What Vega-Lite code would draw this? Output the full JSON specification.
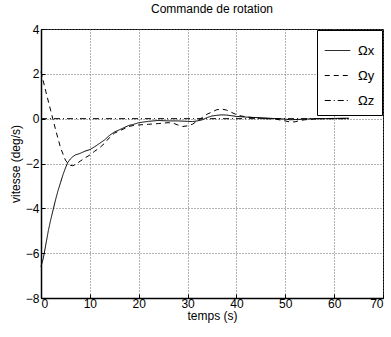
{
  "$schema": "https://vega.github.io/schema/vega-lite/v6.json",
  "width": 342,
  "height": 269,
  "autosize": {"type": "none"},
  "padding": {"left": 41, "top": 29, "right": 8, "bottom": 39},
  "background": "white",
  "title": {"text": "Commande de rotation", "fontSize": 12, "fontWeight": "normal", "font": "Liberation Sans", "offset": 7, "color": "black"},
  "config": {
    "font": "Liberation Sans",
    "view": {"stroke": "black", "strokeWidth": 1},
    "axis": {
      "domainColor": "black", "domainWidth": 1.5,
      "tickColor": "black", "tickSize": -4, "labelPadding": 6,
      "labelColor": "black", "labelFontSize": 12, "labelFont": "Liberation Sans",
      "titleColor": "black", "titleFontSize": 12, "titleFontWeight": "normal", "titleFont": "Liberation Sans"
    }
  },
  "data": {
    "values": [
      {"t": 0, "v": -6.6, "s": "Ωx"}, {"t": 0.5, "v": -6.2, "s": "Ωx"}, {"t": 1, "v": -5.6, "s": "Ωx"}, {"t": 1.5, "v": -5.0, "s": "Ωx"}, {"t": 2, "v": -4.5, "s": "Ωx"}, {"t": 2.5, "v": -4.05, "s": "Ωx"}, {"t": 3, "v": -3.6, "s": "Ωx"}, {"t": 3.5, "v": -3.2, "s": "Ωx"}, {"t": 4, "v": -2.85, "s": "Ωx"}, {"t": 4.5, "v": -2.5, "s": "Ωx"}, {"t": 5, "v": -2.2, "s": "Ωx"}, {"t": 5.5, "v": -1.95, "s": "Ωx"}, {"t": 6, "v": -1.8, "s": "Ωx"}, {"t": 6.5, "v": -1.7, "s": "Ωx"}, {"t": 7, "v": -1.62, "s": "Ωx"}, {"t": 8, "v": -1.55, "s": "Ωx"}, {"t": 9, "v": -1.45, "s": "Ωx"}, {"t": 10, "v": -1.38, "s": "Ωx"}, {"t": 11, "v": -1.25, "s": "Ωx"}, {"t": 12, "v": -1.1, "s": "Ωx"}, {"t": 13, "v": -0.95, "s": "Ωx"}, {"t": 14, "v": -0.75, "s": "Ωx"}, {"t": 15, "v": -0.6, "s": "Ωx"}, {"t": 16, "v": -0.5, "s": "Ωx"}, {"t": 17, "v": -0.4, "s": "Ωx"}, {"t": 18, "v": -0.3, "s": "Ωx"}, {"t": 19, "v": -0.25, "s": "Ωx"}, {"t": 20, "v": -0.18, "s": "Ωx"}, {"t": 22, "v": -0.12, "s": "Ωx"}, {"t": 24, "v": -0.08, "s": "Ωx"}, {"t": 26, "v": -0.1, "s": "Ωx"}, {"t": 28, "v": -0.1, "s": "Ωx"}, {"t": 30, "v": -0.12, "s": "Ωx"}, {"t": 31, "v": -0.13, "s": "Ωx"}, {"t": 32, "v": -0.1, "s": "Ωx"}, {"t": 33, "v": -0.05, "s": "Ωx"}, {"t": 34, "v": 0.05, "s": "Ωx"}, {"t": 35, "v": 0.12, "s": "Ωx"}, {"t": 36, "v": 0.15, "s": "Ωx"}, {"t": 37, "v": 0.17, "s": "Ωx"}, {"t": 38, "v": 0.16, "s": "Ωx"}, {"t": 39, "v": 0.13, "s": "Ωx"}, {"t": 40, "v": 0.1, "s": "Ωx"}, {"t": 42, "v": 0.07, "s": "Ωx"}, {"t": 44, "v": 0.05, "s": "Ωx"}, {"t": 46, "v": 0.03, "s": "Ωx"}, {"t": 48, "v": 0.0, "s": "Ωx"}, {"t": 50, "v": -0.02, "s": "Ωx"}, {"t": 51, "v": -0.05, "s": "Ωx"}, {"t": 52, "v": -0.04, "s": "Ωx"}, {"t": 54, "v": -0.02, "s": "Ωx"}, {"t": 56, "v": 0.0, "s": "Ωx"}, {"t": 58, "v": 0.0, "s": "Ωx"}, {"t": 60, "v": 0.01, "s": "Ωx"}, {"t": 62, "v": 0.02, "s": "Ωx"}, {"t": 63, "v": 0.02, "s": "Ωx"},
      {"t": 0, "v": 2.1, "s": "Ωy"}, {"t": 1, "v": 1.2, "s": "Ωy"}, {"t": 2, "v": 0.35, "s": "Ωy"}, {"t": 3, "v": -0.5, "s": "Ωy"}, {"t": 4, "v": -1.3, "s": "Ωy"}, {"t": 5, "v": -1.85, "s": "Ωy"}, {"t": 5.5, "v": -2.0, "s": "Ωy"}, {"t": 6, "v": -2.08, "s": "Ωy"}, {"t": 6.5, "v": -2.1, "s": "Ωy"}, {"t": 7, "v": -2.05, "s": "Ωy"}, {"t": 8, "v": -1.9, "s": "Ωy"}, {"t": 9, "v": -1.75, "s": "Ωy"}, {"t": 10, "v": -1.62, "s": "Ωy"}, {"t": 11, "v": -1.45, "s": "Ωy"}, {"t": 12, "v": -1.3, "s": "Ωy"}, {"t": 13, "v": -1.1, "s": "Ωy"}, {"t": 14, "v": -0.85, "s": "Ωy"}, {"t": 15, "v": -0.65, "s": "Ωy"}, {"t": 16, "v": -0.55, "s": "Ωy"}, {"t": 17, "v": -0.45, "s": "Ωy"}, {"t": 18, "v": -0.35, "s": "Ωy"}, {"t": 19, "v": -0.3, "s": "Ωy"}, {"t": 20, "v": -0.28, "s": "Ωy"}, {"t": 22, "v": -0.25, "s": "Ωy"}, {"t": 24, "v": -0.22, "s": "Ωy"}, {"t": 26, "v": -0.18, "s": "Ωy"}, {"t": 27, "v": -0.2, "s": "Ωy"}, {"t": 28, "v": -0.28, "s": "Ωy"}, {"t": 29, "v": -0.35, "s": "Ωy"}, {"t": 30, "v": -0.32, "s": "Ωy"}, {"t": 31, "v": -0.25, "s": "Ωy"}, {"t": 32, "v": -0.1, "s": "Ωy"}, {"t": 33, "v": 0.05, "s": "Ωy"}, {"t": 34, "v": 0.2, "s": "Ωy"}, {"t": 35, "v": 0.3, "s": "Ωy"}, {"t": 36, "v": 0.4, "s": "Ωy"}, {"t": 37, "v": 0.43, "s": "Ωy"}, {"t": 38, "v": 0.38, "s": "Ωy"}, {"t": 39, "v": 0.28, "s": "Ωy"}, {"t": 40, "v": 0.18, "s": "Ωy"}, {"t": 41, "v": 0.12, "s": "Ωy"}, {"t": 42, "v": 0.08, "s": "Ωy"}, {"t": 44, "v": 0.03, "s": "Ωy"}, {"t": 46, "v": 0.0, "s": "Ωy"}, {"t": 48, "v": -0.02, "s": "Ωy"}, {"t": 50, "v": -0.1, "s": "Ωy"}, {"t": 51, "v": -0.15, "s": "Ωy"}, {"t": 52, "v": -0.14, "s": "Ωy"}, {"t": 53, "v": -0.08, "s": "Ωy"}, {"t": 54, "v": -0.05, "s": "Ωy"}, {"t": 56, "v": -0.02, "s": "Ωy"}, {"t": 58, "v": 0.0, "s": "Ωy"}, {"t": 60, "v": 0.0, "s": "Ωy"}, {"t": 63, "v": 0.0, "s": "Ωy"},
      {"t": 0, "v": 0, "s": "Ωz"}, {"t": 63, "v": 0, "s": "Ωz"}
    ]
  },
  "mark": {"type": "line", "color": "black", "strokeWidth": 1},
  "encoding": {
    "x": {"field": "t", "type": "quantitative", "title": "temps (s)", "scale": {"domain": [0, 70], "nice": false}, "axis": {"values": [0, 10, 20, 30, 40, 50, 60, 70], "titlePadding": 1, "labelPadding": 4, "grid": true, "gridColor": "#666666", "gridDash": [1, 2], "gridWidth": 1, "gridOpacity": 1}},
    "y": {"field": "v", "type": "quantitative", "title": "vitesse (deg/s)", "scale": {"domain": [-8, 4], "nice": false}, "axis": {"values": [-8, -6, -4, -2, 0, 2, 4], "titlePadding": 3, "grid": true, "gridColor": "#666666", "gridDash": [1, 2], "gridWidth": 1, "gridOpacity": 1}},
    "strokeDash": {
      "field": "s", "type": "nominal",
      "scale": {"domain": ["Ωx", "Ωy", "Ωz"], "range": [[1, 0], [5, 4], [6, 3, 1, 3]]},
      "legend": {
        "title": null, "orient": "top-right", "offset": 1,
        "strokeColor": "black", "fillColor": "white", "padding": 7,
        "symbolType": "stroke", "symbolSize": 650, "symbolStrokeColor": "black", "symbolStrokeWidth": 1,
        "labelFontSize": 13, "labelColor": "black", "rowPadding": 4, "labelOffset": 7
      }
    }
  }
}
